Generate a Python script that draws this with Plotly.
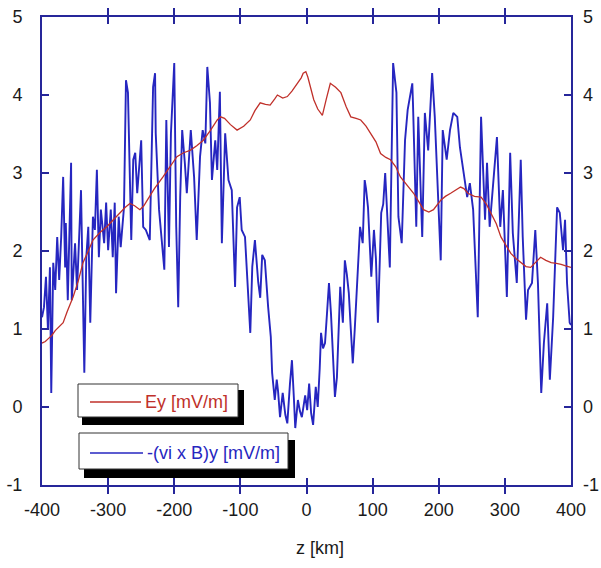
import plotly.graph_objects as go

# ---------------- data ----------------
z_ey = [-400, -395, -390, -385, -380, -375, -368, -362, -353, -345, -338, -330, -323, -312, -302, -292,
        -282, -274, -267, -260, -252, -246, -241, -230, -217, -205, -196, -186, -176, -166, -156, -145,
        -135, -130, -124, -115, -105, -95, -85, -78, -70, -62, -55, -48, -44, -36, -29, -22, -14, -8, -5,
        -1, 2, 6, 11, 17, 24, 30, 36, 44, 52, 60, 67, 75, 82, 90, 97, 105, 112, 120, 127, 135, 142, 152,
        162, 170, 177, 185, 192, 203, 210, 218, 226, 233, 238, 244, 254, 264, 272, 279, 287, 294, 302,
        309, 317, 324, 332, 339, 347, 354, 362, 370, 378, 385, 392, 400]
ey = [0.82, 0.84, 0.88, 0.92, 0.98, 1.02, 1.08, 1.22, 1.41, 1.62, 1.85, 2.0, 2.14, 2.24, 2.31, 2.4,
      2.49, 2.56, 2.61, 2.58, 2.53, 2.58, 2.65, 2.8, 2.95, 3.1, 3.21, 3.26, 3.29, 3.35, 3.42, 3.55,
      3.68, 3.72, 3.7, 3.62, 3.55, 3.6, 3.68, 3.8, 3.9, 3.88, 3.87, 3.95, 4.0, 3.96, 3.98, 4.05, 4.15, 4.22, 4.28,
      4.3, 4.23, 4.1, 3.94, 3.82, 3.74, 3.95, 4.15, 4.1, 4.03, 3.85, 3.72, 3.7, 3.68, 3.6, 3.51, 3.4, 3.25, 3.2,
      3.17, 3.08, 2.95, 2.85, 2.74, 2.63, 2.53, 2.5, 2.53, 2.65, 2.7, 2.74, 2.78, 2.82, 2.8, 2.74, 2.7, 2.69,
      2.6, 2.49, 2.35, 2.18, 2.06, 1.97, 1.9, 1.85, 1.8, 1.79, 1.86, 1.92, 1.88, 1.85, 1.84, 1.83, 1.81, 1.79]

z_vb = [-400, -397, -394, -391, -388, -386, -383, -380, -377, -374, -371, -368, -365, -364, -361, -356,
        -355, -350, -347, -343, -341, -336, -333, -330, -327, -323, -320, -317, -314, -311, -306, -303,
        -300, -296, -293, -290, -288, -284, -281, -276, -273, -270, -265, -262, -259, -256, -250, -247,
        -243, -237, -235, -232, -229, -228, -223, -220, -215, -212, -208, -205, -200, -197, -194, -191,
        -188, -184, -181, -175, -170, -166, -161, -157, -153, -150, -146, -143, -138, -135, -132, -131,
        -128, -123, -118, -113, -108, -105, -101, -98, -93, -89, -85, -82, -78, -73, -70, -67, -63, -58,
        -54, -52, -48, -45, -43, -40, -36, -32, -29, -25, -22, -19, -17, -13, -10, -7, -2, 1, 4, 7, 10,
        14, 17, 20, 22, 25, 28, 31, 34, 37, 39, 43, 46, 49, 51, 55, 58, 61, 64, 67, 70, 73, 75, 78, 81,
        85, 88, 90, 93, 98, 102, 105, 108, 113, 116, 119, 121, 123, 126, 131, 136, 139, 144, 149, 153,
        160, 161, 166, 169, 175, 179, 184, 190, 194, 199, 203, 206, 212, 217, 222, 228, 232, 237, 243,
        247, 252, 259, 264, 270, 273, 277, 282, 288, 293, 297, 303, 308, 312, 318, 324, 327, 332, 335,
        341, 346, 350, 355, 359, 364, 368, 373, 379, 383, 388, 391, 394, 398, 400]
vb = [1.15, 1.28, 1.67, 0.99, 1.79, 0.18, 1.85, 1.5, 2.18, 1.63, 2.18, 2.95, 1.79, 2.36, 1.37, 3.13,
      1.37, 2.1, 1.5, 2.44, 2.78, 0.44, 1.92, 2.31, 1.08, 2.44, 2.27, 3.04, 1.92, 2.53, 2.1, 2.62,
      2.01, 2.53, 1.92, 2.62, 1.46, 2.44, 2.05, 2.56, 4.19, 4.03, 2.14, 3.17, 3.26, 2.74, 3.42, 2.31,
      2.27, 2.14, 3.04, 4.1, 4.28, 3.51, 2.53, 2.23, 1.76, 3.68, 2.05, 3.51, 4.41, 2.31, 1.28, 2.69,
      3.55, 3.13, 2.74, 3.55, 2.95, 2.14, 3.21, 3.55, 3.38, 4.36, 3.9, 2.91, 3.42, 3.04, 4.03, 4.04,
      2.1, 3.51, 2.91, 2.78, 1.54, 2.56, 2.69, 2.27, 2.18, 1.6, 0.95, 1.8, 2.14, 1.6, 1.4, 1.95, 1.88, 1.28,
      0.9, 0.44, 0.09, 0.35, 0.2, -0.13, 0.18, -0.1, -0.21, 0.3, 0.6, 0.1, -0.27, 0.09, -0.05, -0.13, 0.15, -0.04, 0.3, -0.08, -0.23,
      0.26, 0.0, 0.5, 0.95, 0.75, 0.82, 1.2, 1.59, 1.2, 0.9, 0.13, 0.38, 1.0, 1.54, 1.08, 1.88, 1.7, 1.46, 1.0, 0.56, 1.0, 1.3, 1.72, 2.31,
      2.1, 2.91, 2.8, 2.56, 1.67, 2.27, 1.9, 1.08, 2.49, 2.6, 3.0, 2.6, 2.2, 1.79, 4.41, 4.03, 2.44, 2.1, 3.42, 3.81,
      4.15, 3.9, 2.31, 3.72, 2.18, 3.77, 3.29, 4.28, 3.72, 2.78, 1.88, 3.55, 3.17, 3.55, 3.77, 3.72, 3.33, 3.04, 2.69,
      2.87, 2.53, 1.15, 3.72, 2.4, 3.13, 2.31, 2.87, 3.46, 2.31, 2.78, 1.41, 3.26, 2.23, 1.59, 3.17, 2.18, 1.12, 1.5,
      1.59, 2.27, 1.59, 0.18, 0.82, 1.33, 0.35, 1.15, 2.56, 2.49, 2.01, 2.4, 1.59, 1.08, 1.05]

x_ticks = [-400, -300, -200, -100, 0, 100, 200, 300, 400]
x_ticktext = ["-400", "-300", "-200", "-100", "0", "100", "200", "300", "400"]
y_ticks = [-1, 0, 1, 2, 3, 4, 5]
y_ticktext = ["-1", "0", "1", "2", "3", "4", "5"]
legend_labels = ["Ey [mV/m]", "-(vi x B)y [mV/m]"]
x_title = "z [km]"

# ---------------- style ----------------
W, H = 601, 568
ML, MR, MT, MB = 42, 30, 17, 83
AX = "#26269a"
RED = "#c0302a"
BLUE = "#2626c0"
FONT = "Liberation Sans, Arial, sans-serif"
TXT = "#1a1a1a"
PW, PH = W - ML - MR, H - MT - MB


def px(xp):
    return (xp - ML) / PW


def py(yp):
    return (H - MB - yp) / PH


fig = go.Figure()
fig.add_trace(go.Scatter(x=z_vb, y=vb, mode="lines", line=dict(color=BLUE, width=1.9),
                         showlegend=False, hoverinfo="skip"))
fig.add_trace(go.Scatter(x=z_ey, y=ey, mode="lines", line=dict(color=RED, width=1.3),
                         showlegend=False, hoverinfo="skip"))
# invisible helper so the right-hand axis is drawn
fig.add_trace(go.Scatter(x=z_ey, y=ey, mode="lines", yaxis="y2", opacity=0,
                         line=dict(width=0), showlegend=False, hoverinfo="skip"))

axis_common = dict(showgrid=False, zeroline=False, ticks="inside", ticklen=7, tickwidth=1.5,
                   tickcolor=AX, automargin=False, tickfont=dict(family=FONT, size=18, color=TXT))

fig.update_layout(
    width=W, height=H, margin=dict(l=ML, r=MR, t=MT, b=MB, autoexpand=False),
    paper_bgcolor="white", plot_bgcolor="white",
    xaxis=dict(range=[-400, 400], tickvals=x_ticks, ticktext=x_ticktext, showline=True, linecolor=AX,
               linewidth=2, mirror="allticks", ticklabelstandoff=7, **axis_common),
    yaxis=dict(range=[-1, 5], tickvals=y_ticks, ticktext=y_ticktext, showline=True, linecolor=AX,
               linewidth=2, mirror="allticks", ticklabelstandoff=14, **axis_common),
    yaxis2=dict(range=[-1, 5], tickvals=y_ticks, ticktext=y_ticktext, overlaying="y", side="right",
                showline=False, showgrid=False, zeroline=False, ticks="", ticklabelstandoff=11,
                automargin=False, tickfont=dict(family=FONT, size=18, color=TXT)),
)

shapes = []
# legend boxes: black drop shadow, then white face on top
for (x0, x1, y0, y1, sx, sy) in [(78, 238, 384, 417, 5, 7), (79, 288, 433, 469, 6, 8)]:
    shapes.append(dict(type="rect", xref="paper", yref="paper",
                       x0=px(x0 + sx), x1=px(x1 + sx), y0=py(y1 + sy), y1=py(y0 + sy),
                       fillcolor="#000000", opacity=1, line=dict(color="#000000", width=2), layer="above"))
    shapes.append(dict(type="rect", xref="paper", yref="paper", x0=px(x0), x1=px(x1), y0=py(y1), y1=py(y0),
                       fillcolor="#ffffff", opacity=1, line=dict(color="#333333", width=1), layer="above"))
# legend sample lines
shapes.append(dict(type="line", xref="paper", yref="paper", x0=px(90), x1=px(141), y0=py(402), y1=py(402),
                   line=dict(color=RED, width=1.3), layer="above"))
shapes.append(dict(type="line", xref="paper", yref="paper", x0=px(90), x1=px(143), y0=py(453), y1=py(453),
                   line=dict(color=BLUE, width=1.6), layer="above"))
fig.update_layout(shapes=shapes)

fig.add_annotation(xref="paper", yref="paper", x=px(143), y=py(402), xanchor="left", yanchor="middle",
                   text=legend_labels[0], showarrow=False, font=dict(family=FONT, size=18, color=RED))
fig.add_annotation(xref="paper", yref="paper", x=px(145), y=py(453), xanchor="left", yanchor="middle",
                   text=legend_labels[1], showarrow=False, font=dict(family=FONT, size=18, color=BLUE))
fig.add_annotation(xref="paper", yref="paper", x=px(320), y=py(548), xanchor="center", yanchor="middle",
                   text=x_title, showarrow=False, font=dict(family=FONT, size=18, color=TXT))

fig.write_html("out.html")
